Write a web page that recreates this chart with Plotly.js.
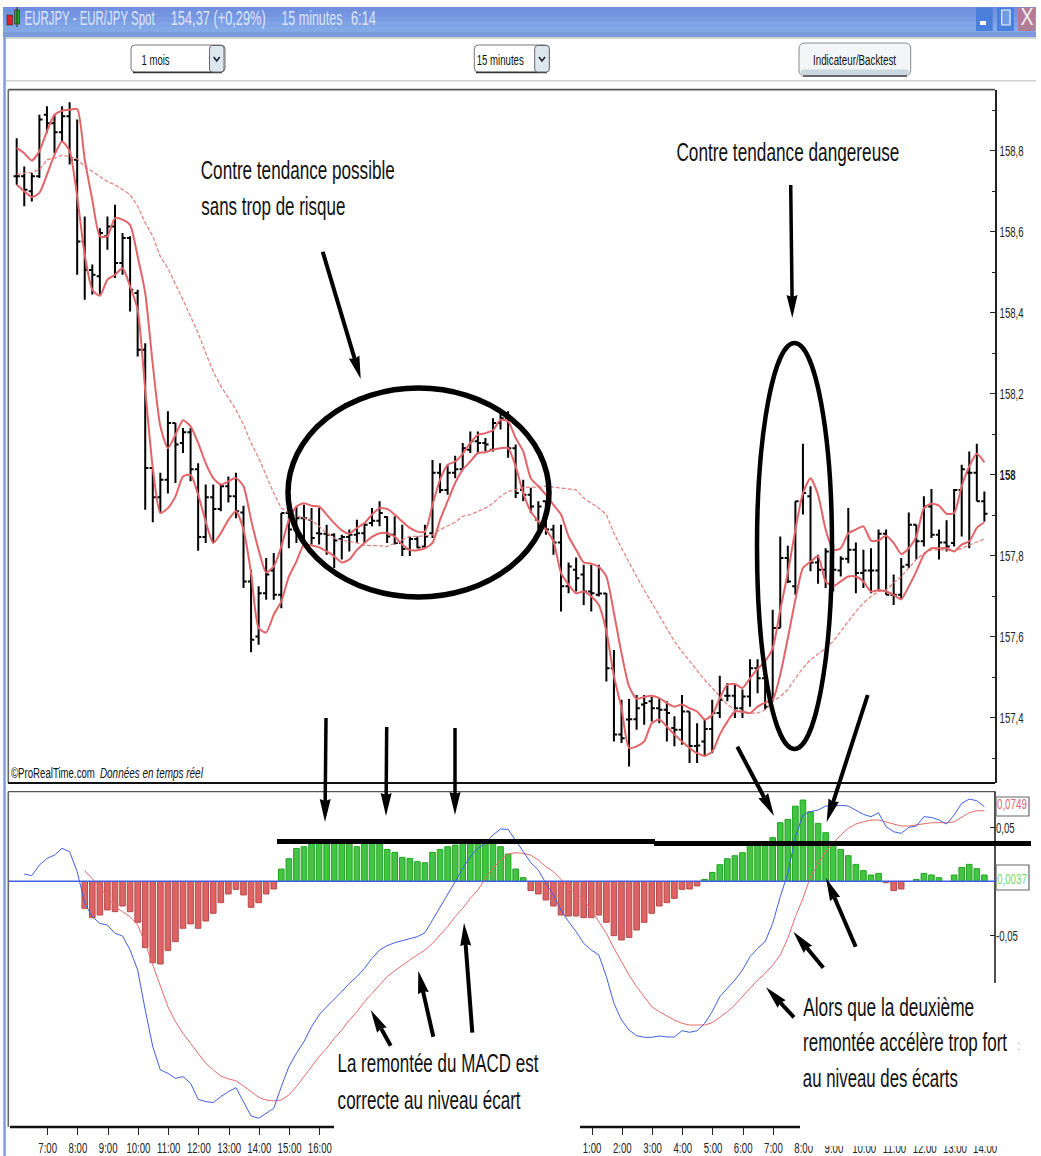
<!DOCTYPE html>
<html><head><meta charset="utf-8">
<script src="https://cdn.plot.ly/plotly-3.0.1.min.js"></script>
<style>html,body{margin:0;padding:0;background:#fff}#c{width:1041px;height:1156px}</style>
</head><body><div id="c"></div>
<script>
// ---- price bars (EUR/JPY, 15 minutes) ----
const opens=[158.737,158.737,158.700,158.737,158.889,158.868,158.846,158.885,158.778,158.576,
158.506,158.490,158.589,158.613,158.523,158.585,158.449,158.309,158.017,157.945,
157.988,158.128,158.079,158.105,158.014,157.847,157.945,157.916,157.972,157.947,
157.907,157.737,157.601,157.708,157.764,157.704,157.906,157.865,157.893,157.889,
157.856,157.855,157.852,157.842,157.847,157.852,157.856,157.881,157.887,157.896,
157.852,157.832,157.817,157.842,157.823,157.856,158.005,157.963,158.005,158.014,
158.062,158.083,158.079,158.062,158.128,158.140,158.066,157.963,157.951,157.889,
157.935,157.865,157.833,157.725,157.766,157.754,157.712,157.704,157.707,157.523,
157.359,157.396,157.397,157.433,157.441,157.424,157.420,157.375,157.371,157.416,
157.331,157.342,157.373,157.412,157.455,157.455,157.424,157.453,157.523,157.498,
157.445,157.622,157.795,157.725,157.935,157.947,157.784,157.766,157.815,157.764,
157.793,157.815,157.758,157.764,157.764,157.855,157.704,157.704,157.778,157.877,
157.836,157.922,157.852,157.833,157.832,157.963,158.005,158.005,157.935];
const highs=[158.831,158.761,158.745,158.889,158.910,158.889,158.910,158.920,158.877,158.638,
158.519,158.609,158.638,158.667,158.597,158.589,158.457,158.325,158.017,158.005,
158.157,158.128,158.116,158.116,158.029,157.976,157.976,157.976,157.996,158.005,
157.924,157.766,157.725,157.795,157.807,157.906,157.906,157.922,157.926,157.918,
157.918,157.877,157.856,157.852,157.865,157.889,157.881,157.918,157.935,157.898,
157.898,157.877,157.848,157.848,157.877,158.037,158.029,158.023,158.047,158.079,
158.107,158.107,158.091,158.140,158.153,158.157,158.075,157.988,157.968,157.935,
157.935,157.877,157.877,157.784,157.796,157.778,157.778,157.778,157.708,157.568,
157.445,157.447,157.457,157.457,157.452,157.449,157.441,157.404,157.457,157.416,
157.387,157.396,157.445,157.504,157.486,157.482,157.470,157.545,157.545,157.540,
157.667,157.848,157.825,157.935,158.077,157.972,157.803,157.819,157.828,157.799,
157.918,157.833,157.815,157.819,157.865,157.865,157.754,157.795,157.907,157.877,
157.947,157.965,157.865,157.888,157.965,158.025,158.058,158.077,157.959];
const lows=[158.716,158.663,158.675,158.733,158.844,158.794,158.823,158.766,158.494,158.432,
158.445,158.445,158.556,158.486,158.494,158.403,158.292,157.914,157.883,157.906,
157.954,157.980,158.054,157.984,157.813,157.832,157.832,157.910,157.932,157.893,
157.721,157.562,157.581,157.692,157.692,157.671,157.819,157.832,157.832,157.828,
157.828,157.803,157.770,157.791,157.811,157.832,157.832,157.873,157.873,157.832,
157.828,157.800,157.800,157.819,157.819,157.844,157.955,157.951,157.992,158.013,
158.054,158.054,158.058,158.058,158.112,158.042,157.943,157.935,157.906,157.861,
157.852,157.803,157.663,157.708,157.712,157.679,157.663,157.700,157.490,157.342,
157.338,157.280,157.371,157.383,157.391,157.387,157.342,157.330,157.334,157.289,
157.289,157.305,157.313,157.400,157.441,157.400,157.400,157.428,157.461,157.420,
157.441,157.622,157.733,157.704,157.902,157.762,157.731,157.721,157.712,157.749,
157.782,157.708,157.721,157.708,157.712,157.704,157.679,157.692,157.770,157.791,
157.823,157.844,157.791,157.811,157.823,157.848,157.819,157.935,157.885];
const closes=[158.737,158.704,158.737,158.877,158.868,158.846,158.885,158.778,158.576,158.506,
158.494,158.597,158.613,158.523,158.585,158.457,158.309,158.017,157.945,157.988,
158.128,158.075,158.105,158.014,157.847,157.945,157.916,157.972,157.947,157.910,
157.737,157.593,157.708,157.754,157.704,157.906,157.865,157.893,157.893,157.844,
157.855,157.852,157.838,157.847,157.852,157.856,157.877,157.887,157.906,157.848,
157.832,157.817,157.842,157.821,157.848,158.005,157.963,158.005,158.014,158.066,
158.083,158.079,158.075,158.128,158.140,158.066,157.955,157.951,157.922,157.922,
157.865,157.833,157.725,157.774,157.745,157.712,157.708,157.707,157.523,157.359,
157.350,157.397,157.424,157.437,157.424,157.420,157.412,157.371,157.416,157.331,
157.332,157.373,157.412,157.445,157.455,157.424,157.453,157.523,157.498,157.428,
157.622,157.795,157.737,157.935,157.955,157.784,157.766,157.811,157.766,157.793,
157.815,157.758,157.764,157.764,157.855,157.704,157.704,157.773,157.877,157.836,
157.922,157.852,157.833,157.823,157.963,158.014,158.005,157.935,157.904];
// ---- moving-average envelope ----
const upperBand=[158.807,158.794,158.776,158.799,158.848,158.889,158.899,158.901,158.903,158.778,
158.679,158.589,158.589,158.634,158.630,158.617,158.539,158.449,158.272,158.120,
158.066,158.099,158.135,158.120,158.079,158.029,157.992,157.976,157.984,157.992,
157.972,157.889,157.815,157.759,157.774,157.823,157.889,157.922,157.930,157.924,
157.922,157.902,157.881,157.863,157.855,157.869,157.881,157.902,157.918,157.916,
157.902,157.885,157.869,157.860,157.860,157.926,157.988,158.025,158.033,158.052,
158.079,158.099,158.103,158.110,158.136,158.132,158.091,158.058,157.992,157.972,
157.951,157.926,157.902,157.848,157.815,157.784,157.781,157.773,157.749,157.659,
157.560,157.478,157.447,157.452,157.455,157.449,157.437,157.428,157.433,157.424,
157.416,157.396,157.408,157.449,157.482,157.484,157.474,157.498,157.521,157.540,
157.572,157.667,157.758,157.865,157.955,157.992,157.951,157.865,157.815,157.819,
157.856,157.865,157.873,157.838,157.838,157.850,157.832,157.805,157.819,157.848,
157.918,157.929,157.924,157.904,157.906,157.972,158.021,158.052,158.031];
const lowerBand=[158.716,158.700,158.686,158.696,158.741,158.790,158.823,158.799,158.687,158.543,
158.457,158.442,158.482,158.494,158.510,158.465,158.408,158.210,158.017,157.906,
157.918,157.947,157.996,158.000,157.951,157.885,157.832,157.856,157.889,157.910,
157.865,157.758,157.622,157.611,157.655,157.688,157.749,157.786,157.828,157.826,
157.821,157.811,157.799,157.784,157.791,157.815,157.832,157.847,157.856,157.856,
157.848,157.828,157.815,157.814,157.819,157.832,157.889,157.935,157.980,158.013,
158.033,158.054,158.056,158.062,158.066,158.066,158.021,157.955,157.910,157.885,
157.865,157.836,157.758,157.729,157.708,157.712,157.700,157.679,157.614,157.503,
157.424,157.326,157.330,157.342,157.387,157.396,157.379,157.359,157.342,157.326,
157.313,157.307,157.317,157.359,157.391,157.416,157.416,157.412,157.428,157.438,
157.445,157.507,157.597,157.692,157.770,157.786,157.799,157.737,157.725,157.737,
157.749,157.749,157.737,157.712,157.716,157.712,157.704,157.693,157.725,157.762,
157.803,157.819,157.819,157.819,157.811,157.828,157.836,157.869,157.883];
const slowAverage=[158.741,158.745,158.747,158.753,158.778,158.782,158.789,158.786,158.780,158.761,
158.749,158.737,158.724,158.716,158.704,158.692,158.663,158.622,158.589,158.539,
158.510,158.473,158.432,158.391,158.350,158.301,158.255,158.219,158.190,158.161,
158.124,158.079,158.042,158.000,157.955,157.918,157.906,157.899,157.893,157.888,
157.873,157.856,157.844,157.838,157.836,157.832,157.826,157.826,157.825,157.823,
157.832,157.840,157.848,157.848,157.850,157.852,157.865,157.875,157.883,157.898,
157.902,157.910,157.918,157.930,157.947,157.959,157.963,157.968,157.970,157.970,
157.972,157.970,157.968,157.966,157.963,157.943,157.930,157.918,157.902,157.856,
157.819,157.782,157.749,157.716,157.684,157.651,157.618,157.589,157.564,157.540,
157.515,157.494,157.474,157.453,157.433,157.420,157.414,157.412,157.412,157.420,
157.441,157.453,157.470,157.498,157.523,157.544,157.558,157.572,157.589,157.614,
157.638,157.663,157.684,157.700,157.712,157.716,157.733,157.749,157.770,157.791,
157.807,157.815,157.815,157.815,157.811,157.819,157.828,157.836,157.842];
// ---- MACD panel ----
const macdStart=1;
const macdLine=[.0069,.0054,.0152,.0213,.0244,.0306,.0275,.0091,-.0201,-.0324,-.0386,-.0401,-.0478,-.0502,-.0631,-.0816,-.1184,-.1522,-.1737,-.1768,
-.1814,-.1799,-.1860,-.2008,-.2029,-.2038,-.1983,-.1937,-.1900,-.2029,-.2161,-.2183,-.2137,-.2091,-.1891,-.1707,-.1584,-.1476,-.1338,-.1230,
-.1154,-.1086,-.1015,-.0939,-.0877,-.0800,-.0708,-.0631,-.0591,-.0564,-.0545,-.0524,-.0508,-.0472,-.0355,-.0247,-.0124,-.0002,.0121,.0229,
.0306,.0352,.0429,.0484,.0481,.0382,
.0275,.0174,.0106,-.0017,-.0124,-.0263,-.0370,-.0462,-.0570,-.0631,-.0677,-.0877,-.1123,-.1277,-.1369,-.1421,-.1436,-.1436,-.1424,-.1433,
-.1433,-.1375,-.1390,-.1375,-.1307,-.1200,-.1062,-.0985,-.0908,-.0816,-.0693,-.0616,-.0555,-.0386,-.0140,.0075,.0413,.0613,.0644,.0659,
.0696,.0696,.0702,.0696,.0659,.0619,.0598,.0634,.0505,.0459,.0444,.0499,.0512,.0598,.0591,.0567,.0530,.0613,.0720,.0760,.0745,.0690];
const signalStart=9;
const signalLine=[.0100,.0029,-.0048,-.0140,-.0232,-.0278,-.0324,-.0401,-.0570,-.0770,-.0969,-.1154,-.1292,-.1400,-.1492,-.1584,-.1676,-.1737,-.1793,-.1820,
-.1836,-.1885,-.1937,-.1989,-.2014,-.2023,-.2014,-.1968,-.1891,-.1799,-.1707,-.1614,-.1538,-.1446,-.1369,-.1277,-.1200,-.1108,-.1031,-.0954,
-.0877,-.0822,-.0770,-.0724,-.0677,-.0631,-.0570,-.0493,-.0416,-.0324,-.0247,-.0155,-.0078,.0029,.0121,.0198,.0253,.0266,
.0260,.0244,.0198,.0137,.0091,.0020,-.0063,-.0109,-.0170,-.0263,-.0370,-.0478,-.0616,-.0739,-.0862,-.0969,-.1062,-.1154,-.1200,-.1240,
-.1277,-.1307,-.1323,-.1323,-.1323,-.1301,-.1252,-.1200,-.1138,-.1062,-.0985,-.0908,-.0846,-.0770,-.0677,-.0524,-.0324,-.0155,.0045,.0167,
.0275,.0352,.0429,.0490,.0530,.0551,.0567,.0567,.0551,.0530,.0512,.0512,.0521,.0536,.0542,.0542,.0542,.0551,.0591,.0634,.0653,.0653];
const histStart=9;
const histogram=[-.0247,-.0333,-.0309,-.0262,-.0278,-.0226,-.0278,-.0376,-.0609,-.0748,-.0760,-.0637,-.0554,-.0431,-.0391,-.0431,-.0364,-.0293,-.0195,-.0115,
-.0072,-.0124,-.0238,-.0195,-.0115,-.0069,.0115,.0210,.0305,.0321,.0358,.0358,.0358,.0358,.0358,.0358,.0321,.0352,.0358,.0358,
.0296,.0269,.0223,.0213,.0183,.0173,.0269,.0296,.0321,.0336,.0358,.0358,.0358,.0358,.0358,.0321,.0253,.0115,.0035,
-.0084,-.0115,-.0170,-.0226,-.0309,-.0318,-.0318,-.0333,-.0333,-.0309,-.0376,-.0499,-.0539,-.0515,-.0447,-.0376,-.0293,-.0226,-.0195,-.0155,
-.0072,-.0069,-.0041,.0020,.0084,.0155,.0210,.0238,.0266,.0336,.0352,.0336,.0404,.0542,.0573,.0695,.0751,.0643,.0536,.0450,
.0345,.0296,.0238,.0158,.0100,.0060,.0075,-.0011,-.0084,-.0069,0,.0020,.0075,.0060,.0035,0,.0060,.0130,.0158,.0118,.0060];
// ---- axes labels ----
const priceTicks=[157.4,157.6,157.8,158,158.2,158.4,158.6,158.8];
const priceTickText=["157,4","157,6","157,8","<b>158</b>","158,2","158,4","158,6","158,8"];
const priceMinor=[157.3,157.5,157.7,157.9,158.1,158.3,158.5,158.7,158.9];
const macdTicks=[-.05,.05];
const macdTickText=["-0,05","0,05"];
const timeTicks=[4.1,8.1,12.1,16.1,20.1,24.1,28.1,32.1,36.1,40.1,76.1,80.1,84.1,88.1,92.1,96.1,100.1,104.1,108.1,112.1,116.1,120.1,124.1,128.1];
const timeText=["7:00","8:00","9:00","10:00","11:00","12:00","13:00","14:00","15:00","16:00","1:00","2:00","3:00","4:00","5:00","6:00","7:00","8:00","9:00","10:00","11:00","12:00","13:00","14:00"];
// ---- annotation wording ----
const notes=[
 ["Contre tendance possible",298,170,194,25],["sans trop de risque",273,206,144,25],["Contre tendance dangereuse",788,152,223,25],
 ["La remontée du MACD est",437.5,1063,201,25],["correcte au niveau écart",428.5,1100,183,25],
 ["Alors que la deuxième",888,1007,171,25],["remontée accélère trop fort",905,1042,204,25],["au niveau des écarts",880,1078,155,25],
 ["©ProRealTime.com",53,773,84,14],["Données en temps réel",151.5,773,103,14,"italic"],
 ["EURJPY - EUR/JPY Spot",90,18,130,20,"normal","#dce6fa"],["154,37 (+0,29%)",218,18,95,20,"normal","#dce6fa"],["15 minutes",311.5,18,61,20,"normal","#dce6fa"],["6:14",363,18,25,20,"normal","#dce6fa"],
 ["1 mois",155,60,28,14],["15 minutes",499.5,60,47,14],["Indicateur/Backtest",854.5,60,83,14],
 ["0,0749",1011.5,803,30,15,"normal","#d96a6a"],["0,0037",1011.5,878,30,15,"normal","#6ddc6d"],
 ["X",1026.7,17,13,24,"normal","#f4eef2"],[":",1018,1046,3,12,"normal","#999"]
];
const arrows=[[322.7,251.7,360.7,379,4],[790.7,185,792.3,318,3.5],[326,718,325,822,3.5],[386.7,727,386,816,3.5],[455,728,455,815,3.5],
 [737.3,746.7,774,816,4],[867.7,695,826.7,822,4],[390.7,1045.7,370.7,1010,4],[433.3,1036.7,418.3,970.7,4],[472.3,1032.7,464,923,4],
 [855.7,946.7,826,878,4],[823.3,967.7,793.3,931.7,4],[794,1017.3,766,987.3,4]];

const W=1041,H=1156;
const px=x=>x/W, py=y=>1-y/H;
const idx=(n,s)=>Array.from({length:n},(_,k)=>k+s);
const xs=idx(opens.length,0);
const RED="#e26468";
const black={line:{color:"#000",width:2}};
const traces=[
 {type:"ohlc",x:xs,open:opens,high:highs,low:lows,close:closes,xaxis:"x",yaxis:"y",increasing:black,decreasing:black,tickwidth:.42,hoverinfo:"skip"},
 {type:"scatter",mode:"lines",x:xs,y:slowAverage,xaxis:"x",yaxis:"y",line:{color:"#e87c7c",width:1.2,dash:"4px,2px"},hoverinfo:"skip"},
 {type:"scatter",mode:"lines",x:xs,y:upperBand,xaxis:"x",yaxis:"y",line:{color:RED,width:2,shape:"spline",smoothing:.6},hoverinfo:"skip"},
 {type:"scatter",mode:"lines",x:xs,y:lowerBand,xaxis:"x",yaxis:"y",line:{color:RED,width:2,shape:"spline",smoothing:.6},hoverinfo:"skip"},
 {type:"bar",x:idx(histogram.length,histStart),y:histogram,xaxis:"x",yaxis:"y2",width:.74,
  marker:{color:histogram.map(v=>v<0?"#dc6464":"#44c444"),line:{color:histogram.map(v=>v<0?"#b84a4a":"#1fa51f"),width:1}},hoverinfo:"skip"},
 {type:"scatter",mode:"lines",x:idx(signalLine.length,signalStart),y:signalLine,xaxis:"x",yaxis:"y2",line:{color:"#e56a6a",width:1},hoverinfo:"skip"},
 {type:"scatter",mode:"lines",x:idx(macdLine.length,macdStart),y:macdLine,xaxis:"x",yaxis:"y2",line:{color:"#3f5fe0",width:1},hoverinfo:"skip"}
];

const shapes=[];
const rect=(x0,y0,x1,y1,fill,stroke,w,layer)=>shapes.push({type:"rect",xref:"paper",yref:"paper",x0:px(x0),x1:px(x1),y0:py(y0),y1:py(y1),fillcolor:fill,line:{color:stroke||fill,width:stroke?(w||1):0},layer:layer||"above"});
const seg=(x0,y0,x1,y1,c,w)=>shapes.push({type:"line",xref:"paper",yref:"paper",x0:px(x0),x1:px(x1),y0:py(y0),y1:py(y1),line:{color:c,width:w},layer:"above"});
const path=(d,fill,stroke,w)=>shapes.push({type:"path",xref:"paper",yref:"paper",path:d,fillcolor:fill,line:{color:stroke||fill,width:w||0},layer:"above"});
const P=(x,y)=>px(x)+","+py(y);
function round(x0,y0,x1,y1,r,fill,stroke){
 const d="M"+P(x0+r,y0)+" L"+P(x1-r,y0)+" Q"+P(x1,y0)+" "+P(x1,y0+r)+" L"+P(x1,y1-r)+" Q"+P(x1,y1)+" "+P(x1-r,y1)+" L"+P(x0+r,y1)+" Q"+P(x0,y1)+" "+P(x0,y1-r)+" L"+P(x0,y0+r)+" Q"+P(x0,y0)+" "+P(x0+r,y0)+" Z";
 path(d,fill,stroke,1);
}
// window title bar
const strips=["#7190de","#7595e0","#7a9ce2","#7fa3e5","#83a8e6","#7d9ade"];
strips.forEach((c,k)=>rect(3,7+5*k,1036,12+5*k,c));
rect(3.3,37,5.8,1156,"#7f9be0");
seg(6,38,1036,38,"#c4c4c4",1.5);
seg(6,80.7,1036,80.7,"#cfcfcf",1.5);
rect(7,15,12.5,25,"#e02020","#333",.7);
rect(14.5,10,19.5,24,"#20b020","#333",.7);
seg(17,7,17,27,"#333",1);
rect(976,7.5,992.7,31,"#4a7fdc");rect(980,21,986,25,"#fff");
rect(997,7.5,1014,31,"#4a7fdc");rect(1001.7,10,1010,25,"#6f9ae6","#f0f4ff",1.2);
rect(1018,7.5,1035,31,"#b27d92");
// controls
round(131,45,225,72,4,"#fff","#777");seg(133,72.5,222,72.5,"#333",1.5);
round(209.5,45.5,224,72,3,"#dde8ee","#667");
round(474.3,45,549.3,72,4,"#fff","#777");seg(476,72.5,547,72.5,"#333",1.5);
round(534.7,45.5,549.3,72,3,"#dde8ee","#667");
[216.7,542].forEach(c=>path("M"+P(c-3,57)+" L"+P(c,61)+" L"+P(c+3,57),"rgba(0,0,0,0)","#223",1.6));
round(799,43,910.7,76,6,"#f2f6f8","#888");round(801,70,908.7,75.5,2,"#c9d8df");seg(803,76,907,76,"#444",1.5);
// panel frames
seg(8.3,89.6,995,89.6,"#555",1.6);seg(8.3,89.6,8.3,783,"#666",1.6);
seg(8,783,995,783,"#111",2.2);
seg(8.3,791.6,995,791.6,"#555",1.4);seg(8.3,791.6,8.3,1127,"#666",1.6);
seg(995,791.6,995,983,"#222",1.6);
seg(9,881.3,995,881.3,"#3f5fe0",1.6);
seg(10,1127,334,1127,"#111",2.6);seg(580,1127,800,1127,"#111",2.6);
// hidden tail of the time axis
rect(800,1128,1041,1139,"#fff");rect(808,1139,1041,1146,"#fff");
// legend value boxes
rect(996,797,1029,816,"rgba(255,255,255,0)","#666",1.2);
rect(996,865,1029,890,"rgba(255,255,255,0)","#666",1.2);
// hand-drawn reference lines and circles
seg(277,841.5,655,841.5,"#000",5);seg(654,843.4,1031,843.4,"#000",5);
shapes.push({type:"circle",xref:"paper",yref:"paper",x0:px(288),x1:px(549),y0:py(388),y1:py(597),line:{color:"#000",width:5.5},layer:"above"});
shapes.push({type:"circle",xref:"paper",yref:"paper",x0:px(757),x1:px(832),y0:py(343),y1:py(749),line:{color:"#000",width:4.5},layer:"above"});
// hand-drawn arrows
arrows.forEach(([x0,y0,x1,y1,w])=>{
 const L=Math.hypot(x1-x0,y1-y0),ux=(x1-x0)/L,uy=(y1-y0)/L,hl=23,hw=5.5;
 const bx=x1-ux*hl,by=y1-uy*hl;
 seg(x0,y0,bx+ux*2,by+uy*2,"#000",w);
 path("M"+P(x1,y1)+" L"+P(bx-uy*hw,by+ux*hw)+" L"+P(bx+ux*2,by+uy*2)+" L"+P(bx+uy*hw,by-ux*hw)+" Z","#000");
});

const fam="'Liberation Sans',Arial,sans-serif";
const annotations=notes.map(([t,x,y,w,s,st,c])=>({xref:"paper",yref:"paper",x:px(x),y:py(y),xanchor:"center",yanchor:"middle",showarrow:false,text:t,
 font:{family:fam,size:s,color:c||"#111",style:st||"normal"}}));

const layout={width:W,height:H,margin:{l:0,r:0,t:0,b:0,pad:0},paper_bgcolor:"#fff",plot_bgcolor:"rgba(0,0,0,0)",showlegend:false,bargap:.26,barmode:"overlay",
 shapes,annotations,font:{family:fam,color:"#222"},
 xaxis:{domain:[0,1],range:[-2.209,135.49],type:"linear",anchor:"y2",rangeslider:{visible:false},showgrid:false,zeroline:false,showline:false,
  ticks:"outside",ticklen:7,tickwidth:1,tickcolor:"#222",tickmode:"array",tickvals:timeTicks,ticktext:timeText,tickangle:0,tickfont:{size:15,color:"#222"}},
 yaxis:{domain:[1-783/H,1-89.6/H],range:[157.2395,158.951],anchor:"free",position:px(995),side:"right",showgrid:false,zeroline:false,
  showline:true,linecolor:"#222",linewidth:1.6,ticks:"inside",ticklen:5,tickcolor:"#222",tickmode:"array",tickvals:priceTicks,ticktext:priceTickText,
  minor:{ticks:"inside",ticklen:3,tickcolor:"#222",tickmode:"array",tickvals:priceMinor},tickfont:{size:15,color:"#222"}},
 yaxis2:{domain:[1-1127/H,1-791.6/H],range:[-.2263,.0829],anchor:"free",position:px(995),side:"right",showgrid:false,
  zeroline:false,showline:false,ticks:"inside",ticklen:5,tickcolor:"#222",tickmode:"array",tickvals:macdTicks,ticktext:macdTickText,tickfont:{size:15,color:"#222"}}
};

Plotly.newPlot("c",traces,layout,{staticPlot:true,displayModeBar:false}).then(gd=>{
 notes.forEach((n,k)=>{
  const t=gd.querySelector('.annotation[data-index="'+k+'"] text');
  if(t){t.setAttribute("textLength",n[3]);t.setAttribute("lengthAdjust","spacingAndGlyphs");}
 });
 gd.querySelectorAll(".xtick text,.ytick text,.y2tick text").forEach(t=>{
  const l=t.getComputedTextLength();
  t.setAttribute("textLength",l*.64);t.setAttribute("lengthAdjust","spacingAndGlyphs");
 });
});
</script></body></html>
